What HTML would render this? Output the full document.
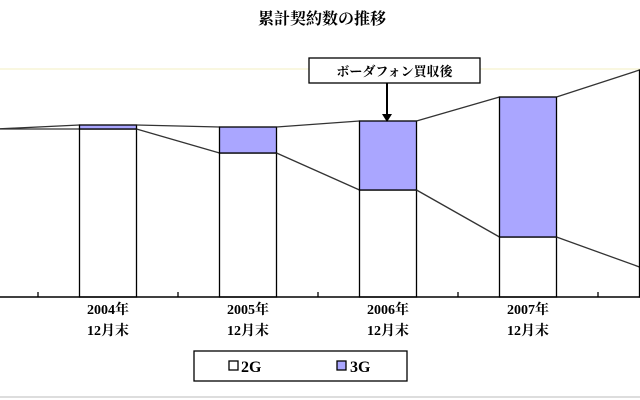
<!DOCTYPE html>
<html><head><meta charset="utf-8"><style>
body{margin:0;background:#fff;}
svg{display:block;font-family:"Liberation Serif","Noto Serif CJK SC",serif;}
</style></head><body>
<svg id="chart" width="640" height="400" viewBox="0 0 640 400">
<text x="322" y="24" text-anchor="middle" font-size="16" font-weight="bold">累計契約数の推移</text>
<line x1="0" y1="69" x2="640" y2="69" stroke="#f3efc0" stroke-width="1"/>
<g id="plot"></g>
<g>
<rect x="309" y="58" width="171" height="25" fill="#fff" stroke="#000" stroke-width="1.3"/>
<text x="394.5" y="76" text-anchor="middle" font-size="13" font-weight="bold">ボーダフォン買収後</text>
<line x1="387" y1="83" x2="387" y2="116" stroke="#000" stroke-width="2"/>
<polygon points="382,114 392,114 387,122" fill="#000"/>
</g>
<g>
<rect x="194" y="351" width="213" height="30" fill="#fff" stroke="#000" stroke-width="1.3"/>
<rect x="229" y="361" width="9" height="9" fill="#fff" stroke="#000" stroke-width="1.3"/>
<text x="241" y="372" font-size="16" font-weight="bold">2G</text>
<rect x="337" y="361" width="9" height="9" fill="#aaa6ff" stroke="#000" stroke-width="1.3"/>
<text x="350" y="372" font-size="16" font-weight="bold">3G</text>
</g>
<line x1="0" y1="397" x2="640" y2="397" stroke="#ddd" stroke-width="2"/>
</svg>
<script>
const years=["2003","2004","2005","2006","2007","2008"];
const labelYears=["","2004年","2005年","2006年","2007年",""];
const totals=[16.8,17.2,17.0,17.6,20.0,22.7];
const twoG=[16.8,16.8,14.4,10.7,6.0,3.0];
const base=297,k=10,barW=57;
function xC(i){return -32+i*140;}
function yV(v){return base-v*k;}
const NS="http://www.w3.org/2000/svg";
const g=document.getElementById('plot');
function mk(t,a){const e=document.createElementNS(NS,t);for(const n in a)e.setAttribute(n,a[n]);g.appendChild(e);return e;}
for(let i=0;i<years.length;i++){
 const x=xC(i)-barW/2;
 const r1=mk('rect',{x:x,y:yV(twoG[i]),width:barW,height:base-yV(twoG[i]),fill:'#fff',stroke:'#000','stroke-width':1.3});
 
 
 const r2=mk('rect',{x:x,y:yV(totals[i]),width:barW,height:yV(twoG[i])-yV(totals[i]),fill:'#aaa6ff',stroke:'#000','stroke-width':1.3});
 
 
 if(i<years.length-1){
  const l1=mk('line',{x1:x+barW,y1:yV(totals[i]),x2:xC(i+1)-barW/2,y2:yV(totals[i+1]),stroke:'#333','stroke-width':1.3});
  
  
  const l2=mk('line',{x1:x+barW,y1:yV(twoG[i]),x2:xC(i+1)-barW/2,y2:yV(twoG[i+1]),stroke:'#333','stroke-width':1.3});
  
  
  const tk=mk('line',{x1:xC(i)+70,y1:base,x2:xC(i)+70,y2:base-5,stroke:'#000','stroke-width':1.3});
  
  
 }
 if(labelYears[i]){
  const t1=mk('text',{x:xC(i),y:base+17,'text-anchor':'middle','font-size':14,'font-weight':'bold'});
  t1.textContent=labelYears[i];
  
  
  const t2=mk('text',{x:xC(i),y:base+38,'text-anchor':'middle','font-size':14,'font-weight':'bold'});
  t2.textContent='12月末';
  
  
 }
}
const ax=mk('line',{x1:0,y1:base,x2:640,y2:base,stroke:'#000','stroke-width':1.5});


</script>
</body></html>
